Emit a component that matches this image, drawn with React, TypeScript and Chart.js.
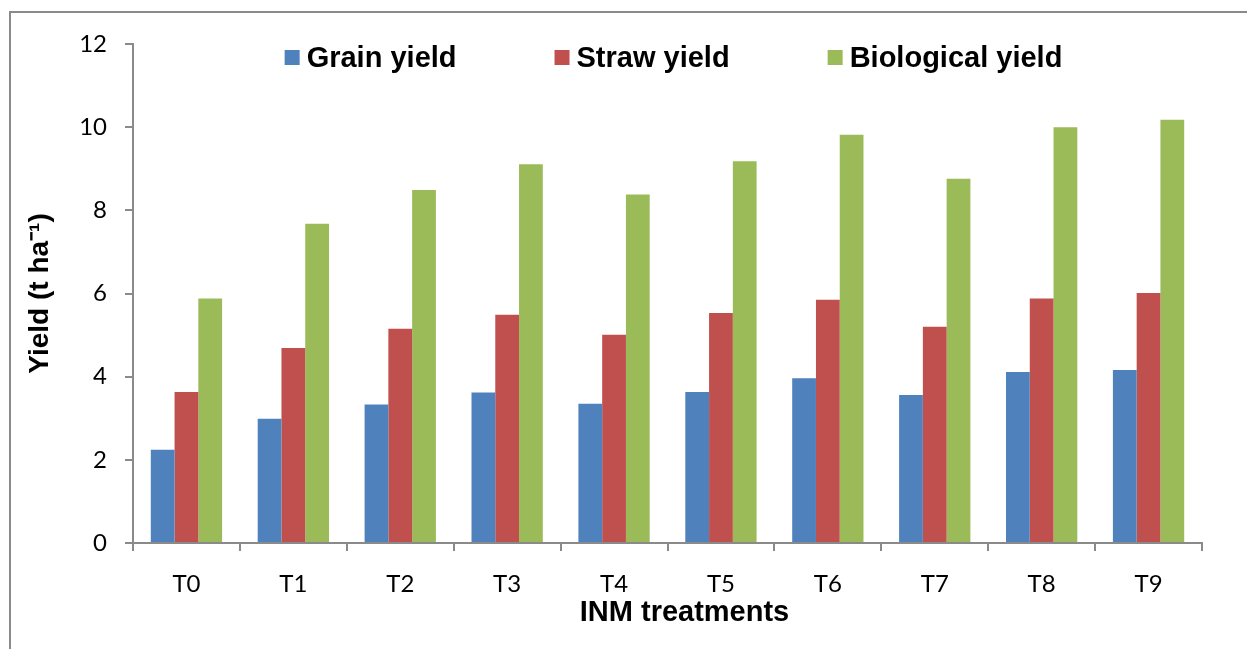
import React, { useEffect, useRef } from "react";
import { Chart, registerables } from "chart.js";

Chart.register(...registerables);

const categories = ["T0", "T1", "T2", "T3", "T4", "T5", "T6", "T7", "T8", "T9"];
const grainYield = [2.24, 2.99, 3.33, 3.62, 3.35, 3.63, 3.96, 3.56, 4.11, 4.16];
const strawYield = [3.63, 4.69, 5.15, 5.49, 5.01, 5.53, 5.85, 5.2, 5.88, 6.01];
const biologicalYield = [5.88, 7.68, 8.49, 9.11, 8.38, 9.18, 9.82, 8.76, 10.0, 10.18];
const seriesLabels = ["Grain yield", "Straw yield", "Biological yield"];
const seriesColors = ["#4F81BD", "#C0504D", "#9BBB59"];
const yTitle = "Yield (t ha\u207B\u00B9)";
const xTitle = "INM treatments";

const BOLD_FONT = '"Liberation Sans", Arial, sans-serif';
const TICK_FONT = 'Lato, "Liberation Sans", sans-serif';
const AXIS_GREY = "#8a8a8a";

const legendPlugin = {
  id: "customLegend",
  afterDraw(chart: any) {
    const ctx = chart.ctx;
    const { left, right, top, bottom } = chart.chartArea;
    ctx.save();
    ctx.font = `bold 29px ${BOLD_FONT}`;
    const box = 15;
    const gap = 7;
    const spacing = 98;
    const items = chart.data.datasets.map((ds: any) => ({
      label: ds.label,
      color: ds.backgroundColor,
      w: ctx.measureText(ds.label).width,
    }));
    const total =
      items.reduce((s: number, it: any) => s + box + gap + it.w, 0) + spacing * (items.length - 1);
    let x = (left + right) / 2 + 6 - total / 2;
    const cy = top + 13.5;
    ctx.textBaseline = "middle";
    ctx.textAlign = "left";
    items.forEach((it: any) => {
      ctx.fillStyle = it.color;
      ctx.fillRect(x, cy - box / 2, box, box);
      ctx.fillStyle = "#000";
      ctx.fillText(it.label, x + box + gap, cy + 1);
      x += box + gap + it.w + spacing;
    });
    // x-axis title (Excel centres it slightly right of the plot centre)
    ctx.textAlign = "center";
    ctx.fillText(xTitle, (left + right) / 2 + 17, bottom + 70);
    ctx.restore();
  },
};

export default function App() {
  const canvasRef = useRef<HTMLCanvasElement | null>(null);

  useEffect(() => {
    const canvas = canvasRef.current;
    if (!canvas) return;
    const chart = new Chart(canvas, {
      type: "bar",
      data: {
        labels: categories,
        datasets: [
          { label: seriesLabels[0], data: grainYield, backgroundColor: seriesColors[0] },
          { label: seriesLabels[1], data: strawYield, backgroundColor: seriesColors[1] },
          { label: seriesLabels[2], data: biologicalYield, backgroundColor: seriesColors[2] },
        ],
      },
      options: {
        responsive: false,
        animation: false,
        devicePixelRatio: 1,
        layout: { padding: { left: 0, right: 45, top: 44, bottom: 0 } },
        datasets: {
          bar: { barPercentage: 1, categoryPercentage: 0.667, borderWidth: 0 },
        },
        plugins: {
          legend: { display: false },
          tooltip: { enabled: false },
          title: { display: false },
        },
        scales: {
          x: {
            grid: {
              offset: true,
              drawOnChartArea: false,
              drawTicks: true,
              tickLength: 8,
              color: AXIS_GREY,
              lineWidth: 2,
            },
            border: { color: AXIS_GREY, width: 2 },
            ticks: {
              color: "#000",
              padding: 19,
              maxRotation: 0,
              font: { family: TICK_FONT, size: 24 },
            },
            title: { display: false },
            afterFit(scale: any) {
              scale.height = 106;
            },
          },
          y: {
            min: 0,
            max: 12,
            grid: {
              drawOnChartArea: false,
              drawTicks: true,
              tickLength: 8,
              color: AXIS_GREY,
              lineWidth: 2,
            },
            border: { color: AXIS_GREY, width: 2 },
            ticks: {
              stepSize: 2,
              color: "#000",
              padding: 18,
              font: { family: TICK_FONT, size: 24 },
            },
            title: {
              display: true,
              text: yTitle,
              color: "#000",
              padding: { top: 23, bottom: 0 },
              font: { family: BOLD_FONT, size: 28, weight: "bold" },
            },
            afterFit(scale: any) {
              scale.width = 133;
            },
          },
        },
      },
      plugins: [legendPlugin],
    });
    return () => chart.destroy();
  }, []);

  return (
    <>
      <div
        style={{
          position: "fixed",
          left: 9,
          top: 11,
          width: 1238,
          height: 638,
          borderLeft: `2px solid ${AXIS_GREY}`,
          borderTop: `2px solid ${AXIS_GREY}`,
          boxSizing: "border-box",
        }}
      />
      <canvas
        ref={canvasRef}
        width={1247}
        height={649}
        style={{ position: "fixed", left: 0, top: 0, width: 1247, height: 649 }}
      />
    </>
  );
}
